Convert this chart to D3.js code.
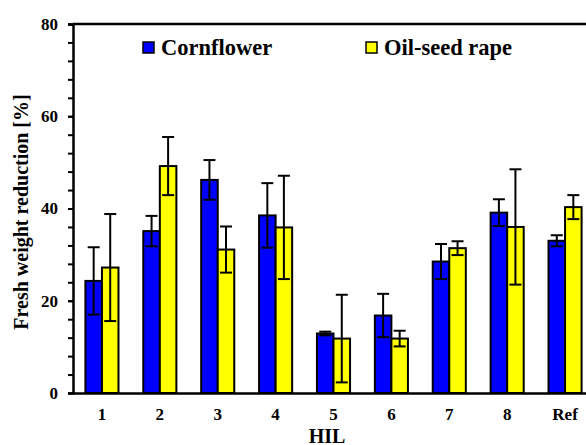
<!DOCTYPE html>
<html>
<head>
<meta charset="utf-8">
<script src="https://cdn.jsdelivr.net/npm/d3@7"></script>
<style>
  body { margin: 0; background: #fff; }
  text { font-family: "Liberation Serif", "Times New Roman", serif; font-weight: bold; fill: #000; }
</style>
</head>
<body>
<svg id="svg1"></svg>
<script>
var categories = ['1', '2', '3', '4', '5', '6', '7', '8', 'Ref'];
var seriesNames = ['Cornflower', 'Oil-seed rape'];
var cornflower = [24.3, 35.1, 46.2, 38.5, 12.9, 16.8, 28.5, 39.1, 33.0];
var cornflowerErr = [7.3, 3.3, 4.3, 7.0, 0.4, 4.7, 3.8, 2.9, 1.2];
var rape = [27.2, 49.2, 31.1, 35.9, 11.8, 11.8, 31.4, 36.0, 40.3];
var rapeErr = [11.6, 6.3, 5.0, 11.2, 9.5, 1.7, 1.5, 12.5, 2.6];
var yTicks = [0, 20, 40, 60, 80];

var margin = {top: 24, right: 0, bottom: 52, left: 73};
var width = 521, height = 369;
var colors = ['#0000ff', '#ffff00'];

var svg = d3.select('#svg1')
  .attr('width', 586)
  .attr('height', 445)
  .append('g')
    .attr('transform', 'translate(' + margin.left + ',' + margin.top + ')');

var x = d3.scaleBand().domain(categories).range([0, width]).paddingInner(0).paddingOuter(0);
var x1 = d3.scaleBand().domain([0, 1]).range([12.4, x.bandwidth() - 12.4]);
var y = d3.scaleLinear().domain([0, 80]).range([height, 0]);

var data = categories.map(function(c, i) {
  return {
    category: c,
    bars: [
      {s: 0, v: cornflower[i], e: cornflowerErr[i]},
      {s: 1, v: rape[i], e: rapeErr[i]}
    ]
  };
});

var groups = svg.selectAll('.grp')
  .data(data)
  .enter()
  .append('g')
    .attr('class', 'grp')
    .attr('transform', function(d) { return 'translate(' + x(d.category) + ',0)'; });

groups.selectAll('rect')
  .data(function(d) { return d.bars; })
  .enter()
  .append('rect')
    .attr('x', function(d) { return x1(d.s); })
    .attr('y', function(d) { return y(d.v); })
    .attr('width', x1.bandwidth())
    .attr('height', function(d) { return height - y(d.v); })
    .attr('fill', function(d) { return colors[d.s]; })
    .attr('stroke', '#000')
    .attr('stroke-width', 2);

// error bars
var err = groups.selectAll('.err')
  .data(function(d) { return d.bars; })
  .enter()
  .append('g')
    .attr('class', 'err')
    .attr('stroke', '#000')
    .attr('stroke-width', 2);

err.append('line')
  .attr('x1', function(d) { return x1(d.s) + x1.bandwidth() / 2; })
  .attr('x2', function(d) { return x1(d.s) + x1.bandwidth() / 2; })
  .attr('y1', function(d) { return y(d.v + d.e); })
  .attr('y2', function(d) { return y(d.v - d.e); });

[1, -1].forEach(function(sign) {
  err.append('line')
    .attr('x1', function(d) { return x1(d.s) + x1.bandwidth() / 2 - 6; })
    .attr('x2', function(d) { return x1(d.s) + x1.bandwidth() / 2 + 6; })
    .attr('y1', function(d) { return y(d.v + sign * d.e); })
    .attr('y2', function(d) { return y(d.v + sign * d.e); });
});

// frame top
svg.append('line')
  .attr('x1', 0).attr('x2', width)
  .attr('y1', 0).attr('y2', 0)
  .attr('stroke', '#000').attr('stroke-width', 2.5);

// y axis: minor ticks every 4
var yMinor = d3.axisLeft(y).tickValues(d3.range(0, 81, 4)).tickSize(5).tickFormat('');
svg.append('g').call(yMinor)
  .call(function(g) { g.select('.domain').remove(); })
  .selectAll('line').attr('stroke-width', 2);

var yAxis = svg.append('g')
  .call(d3.axisLeft(y).tickValues(yTicks).tickSize(5).tickPadding(10));
yAxis.select('.domain').attr('stroke-width', 2.5);
yAxis.selectAll('line').attr('stroke-width', 2);
yAxis.selectAll('text').style('font-size', '17px').style('font-family', '"Liberation Serif", serif');

var xAxis = svg.append('g')
  .attr('transform', 'translate(0,' + height + ')')
  .call(d3.axisBottom(x).tickSize(0).tickPadding(15));
xAxis.select('.domain').attr('stroke-width', 2.5);
xAxis.selectAll('text').style('font-size', '17px').style('font-family', '"Liberation Serif", serif');

svg.append('text')
  .attr('x', 254)
  .attr('y', height + 50)
  .attr('text-anchor', 'middle')
  .style('font-size', '20px')
  .text('HIL');

svg.append('text')
  .attr('transform', 'translate(-45,188) rotate(-90)')
  .attr('text-anchor', 'middle')
  .style('font-size', '20px')
  .text('Fresh weight reduction [%]');

// legend
var legendX = [70, 293];
var legend = svg.selectAll('.leg')
  .data(seriesNames)
  .enter()
  .append('g')
    .attr('class', 'leg')
    .attr('transform', function(d, i) { return 'translate(' + legendX[i] + ',18)'; });

legend.append('rect')
  .attr('width', 11).attr('height', 11)
  .attr('fill', function(d, i) { return colors[i]; })
  .attr('stroke', '#000').attr('stroke-width', 1.5);

legend.append('text')
  .attr('x', 18)
  .attr('y', 13)
  .style('font-size', '22.5px')
  .text(function(d) { return d; });
</script>
</body>
</html>
